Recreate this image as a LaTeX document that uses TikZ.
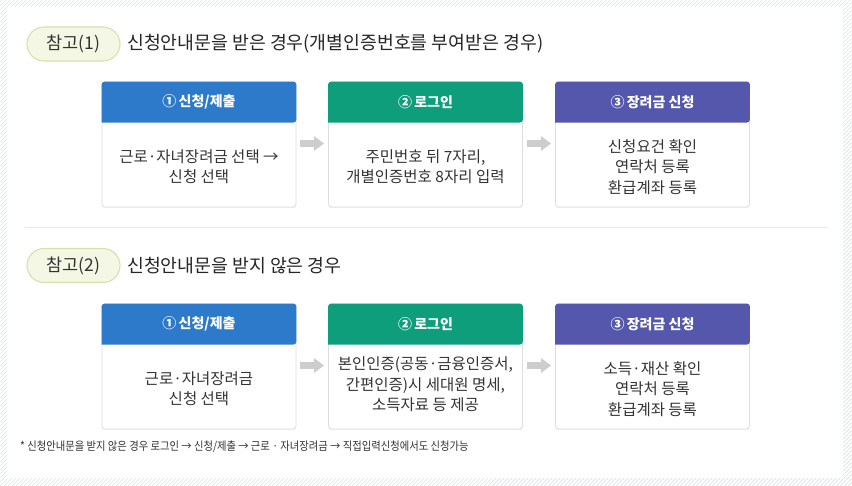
\documentclass[tikz,border=0pt]{standalone}
\usepackage{fontspec}
\setmainfont{Noto Sans CJK KR}
\usetikzlibrary{calc,shadows,arrows.meta}
\definecolor{hblue}{RGB}{45,122,203}
\definecolor{hgreen}{RGB}{15,158,124}
\definecolor{hpurple}{RGB}{84,87,171}
\definecolor{hatchc}{RGB}{218,225,232}
\definecolor{pillfill}{RGB}{243,247,228}
\definecolor{pillline}{RGB}{211,227,169}
\definecolor{boxline}{RGB}{222,222,222}
\definecolor{txt}{RGB}{51,51,51}
\definecolor{arrg}{RGB}{205,205,205}
\definecolor{sepc}{RGB}{232,232,232}
\begin{document}
\begin{tikzpicture}[x=1pt,y=-1pt,
  hatch/.style={draw=hatchc,line width=0.7pt},
  pill/.style={draw=pillline,fill=pillfill,line width=1.1pt,rounded corners=17pt,minimum width=93pt,minimum height=34pt,inner sep=0pt,text=txt,font=\fontsize{17.5}{20}\selectfont},
  titletext/.style={anchor=west,inner sep=0pt,text=black!85,font=\fontsize{18.3}{22}\selectfont},
  stepbox/.style={draw=boxline,fill=white,rounded corners=3pt,minimum width=194pt,minimum height=125pt,inner sep=0pt,line width=0.8pt,
    drop shadow={shadow xshift=0pt,shadow yshift=-1.2pt,opacity=0.10}},
  htext/.style={text=white,inner sep=0pt,font=\fontsize{14}{16}\selectfont\bfseries},
  btext/.style={text=txt,inner sep=0pt,align=center,font=\fontsize{15.5}{20.5}\selectfont},
  garrow/.style={draw=arrg,line width=7pt,-{Triangle[width=14pt,length=10pt]}},
  fnote/.style={anchor=west,inner sep=0pt,text=txt,font=\fontsize{11.6}{13}\selectfont},
]
\useasboundingbox (0,0) rectangle (852,486);
% hatched frame
\begin{scope}
\clip (0,0) rectangle (852,486);
\foreach \i in {-500,-496,...,860} \draw[hatch] (\i,490) -- ++(494,-494);
\end{scope}
\fill[white] (7,7) rectangle (843,478);

% ---------- section 1
\node[pill] (r1) at (73.5,44) {참고(1)};
\node[titletext] (t1) at (127,44) {신청안내문을 받은 경우(개별인증번호를 부여받은 경우)};

\node[stepbox] (a1) at (199,144.5) {};
\node[stepbox] (a2) at (425.5,144.5) {};
\node[stepbox] (a3) at (652.5,144.5) {};
\fill[hblue]   (a1.north west) ++(0,41) [rounded corners=3pt] -- (a1.north west) -- (a1.north east) -- ++(0,41) [sharp corners] -- cycle;
\fill[hgreen]  (a2.north west) ++(0,41) [rounded corners=3pt] -- (a2.north west) -- (a2.north east) -- ++(0,41) [sharp corners] -- cycle;
\fill[hpurple] (a3.north west) ++(0,41) [rounded corners=3pt] -- (a3.north west) -- (a3.north east) -- ++(0,41) [sharp corners] -- cycle;
\node[htext] (a1h) at ($(a1.north)+(0,20.5)$) {①\,신청/제출};
\node[htext] (a2h) at ($(a2.north)+(0,20.5)$) {②\,로그인};
\node[htext] (a3h) at ($(a3.north)+(0,20.5)$) {③\,장려금 신청};
\node[btext] (a1t) at ($(a1.north)+(0,85)$) {근로·자녀장려금 선택 →\\신청 선택};
\node[btext] (a2t) at ($(a2.north)+(0,85)$) {주민번호 뒤 7자리,\\개별인증번호 8자리 입력};
\node[btext] (a3t) at ($(a3.north)+(0,85.5)$) {신청요건 확인\\연락처 등록\\환급계좌 등록};
\draw[garrow] ($(a1.east)+(4,-1)$) -- ($(a2.west)+(-4,-1)$);
\draw[garrow] ($(a2.east)+(4,-1)$) -- ($(a3.west)+(-4,-1)$);

% separator
\draw[sepc,line width=1pt] (25,228) -- (828,228);

% ---------- section 2
\node[pill] (r2) at (73.5,265.5) {참고(2)};
\node[titletext] (t2) at (127,265.5) {신청안내문을 받지 않은 경우};

\node[stepbox] (b1) at (199,366.5) {};
\node[stepbox] (b2) at (425.5,366.5) {};
\node[stepbox] (b3) at (652.5,366.5) {};
\fill[hblue]   (b1.north west) ++(0,41) [rounded corners=3pt] -- (b1.north west) -- (b1.north east) -- ++(0,41) [sharp corners] -- cycle;
\fill[hgreen]  (b2.north west) ++(0,41) [rounded corners=3pt] -- (b2.north west) -- (b2.north east) -- ++(0,41) [sharp corners] -- cycle;
\fill[hpurple] (b3.north west) ++(0,41) [rounded corners=3pt] -- (b3.north west) -- (b3.north east) -- ++(0,41) [sharp corners] -- cycle;
\node[htext] (b1h) at ($(b1.north)+(0,20.5)$) {①\,신청/제출};
\node[htext] (b2h) at ($(b2.north)+(0,20.5)$) {②\,로그인};
\node[htext] (b3h) at ($(b3.north)+(0,20.5)$) {③\,장려금 신청};
\node[btext] (b1t) at ($(b1.north)+(0,85)$) {근로·자녀장려금\\신청 선택};
\node[btext] (b2t) at ($(b2.north)+(0,81)$) {본인인증(공동·금융인증서,\\간편인증)시 세대원 명세,\\소득자료 등 제공};
\node[btext] (b3t) at ($(b3.north)+(0,85.5)$) {소득·재산 확인\\연락처 등록\\환급계좌 등록};
\draw[garrow] ($(b1.east)+(4,-1)$) -- ($(b2.west)+(-4,-1)$);
\draw[garrow] ($(b2.east)+(4,-1)$) -- ($(b3.west)+(-4,-1)$);

% footnote
\node[fnote] (fn) at (20,447) {\scalebox{0.89}[1]{* 신청안내문을 받지 않은 경우 로그인 → 신청/제출 → 근로 · 자녀장려금 → 직접입력신청에서도 신청가능}};
\end{tikzpicture}
\end{document}
